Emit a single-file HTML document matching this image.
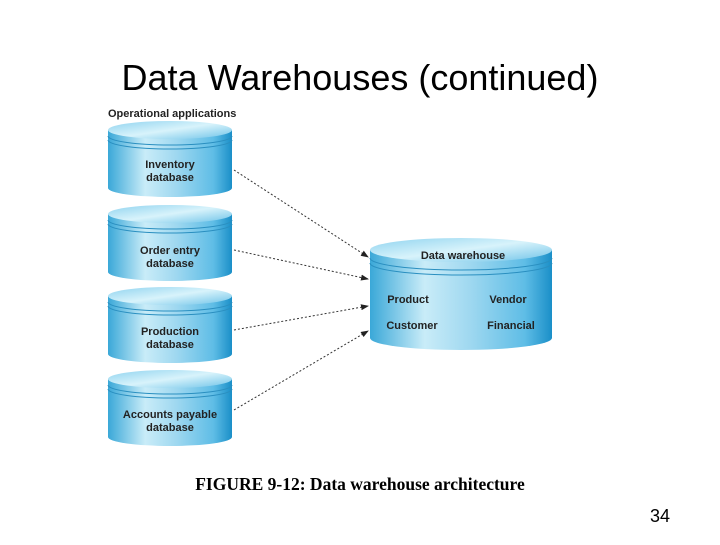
<!DOCTYPE html>
<html><head><style>body{margin:0;background:#fff;width:720px;height:540px;overflow:hidden}</style></head><body>
<svg width="720" height="540" xmlns="http://www.w3.org/2000/svg">
<defs>
<linearGradient id="b" x1="0" x2="1" y1="0" y2="0">
<stop offset="0" stop-color="#3aa8d8"/><stop offset="0.3" stop-color="#c9ecf8"/><stop offset="0.55" stop-color="#9fd8f0"/><stop offset="0.85" stop-color="#5fbde6"/><stop offset="1" stop-color="#1a8fc8"/></linearGradient>
<linearGradient id="t" x1="0" x2="1" y1="0" y2="1">
<stop offset="0" stop-color="#8fd3ef"/><stop offset="0.5" stop-color="#d8f3fb"/><stop offset="1" stop-color="#6cc2e8"/></linearGradient>
<marker id="a" markerWidth="8" markerHeight="6" refX="7" refY="3" orient="auto"><path d="M0,0L8,3L0,6z" fill="#222"/></marker>
</defs>
<text x="360" y="90" font-family="Liberation Sans,sans-serif" font-size="36" text-anchor="middle" fill="#000">Data Warehouses (continued)</text>
<text x="108" y="117" font-family="Liberation Sans,sans-serif" font-size="11" font-weight="bold" fill="#222">Operational applications</text>
<g font-family="Liberation Sans,sans-serif" font-size="11" font-weight="bold" fill="#222" text-anchor="middle">
<g id="c1">
<path d="M108,130 V188 A62,9 0 0 0 232,188 V130 Z" fill="url(#b)"/>
<ellipse cx="170" cy="130" rx="62" ry="9" fill="url(#t)"/>
<path d="M108,136 A62,9 0 0 0 232,136 M108,140 A62,9 0 0 0 232,140" fill="none" stroke="#2a8fc0" stroke-width="1"/>
</g>
<use href="#c1" y="84"/><use href="#c1" y="166"/><use href="#c1" y="249"/>
<text x="170" y="168">Inventory</text><text x="170" y="181">database</text>
<text x="170" y="254">Order entry</text><text x="170" y="267">database</text>
<text x="170" y="335">Production</text><text x="170" y="348">database</text>
<text x="170" y="418">Accounts payable</text><text x="170" y="431">database</text>
<path d="M370,250 V338 A91,12 0 0 0 552,338 V250 Z" fill="url(#b)"/>
<ellipse cx="461" cy="250" rx="91" ry="12" fill="url(#t)"/>
<path d="M370,258 A91,12 0 0 0 552,258 M370,263 A91,12 0 0 0 552,263" fill="none" stroke="#2a8fc0"/>
<text x="463" y="259">Data warehouse</text>
<text x="408" y="303">Product</text><text x="508" y="303">Vendor</text>
<text x="412" y="329">Customer</text><text x="511" y="329">Financial</text>
</g>
<g stroke="#333" stroke-width="1" stroke-dasharray="2,2" marker-end="url(#a)">
<line x1="234" y1="170" x2="368" y2="257"/>
<line x1="234" y1="250" x2="368" y2="279"/>
<line x1="234" y1="330" x2="368" y2="306"/>
<line x1="234" y1="410" x2="368" y2="331"/>
</g>
<text x="360" y="490" font-family="Liberation Serif,serif" font-size="17.5" font-weight="bold" text-anchor="middle">FIGURE 9-12: Data warehouse architecture</text>
<text x="660" y="522" font-family="Liberation Sans,sans-serif" font-size="18" text-anchor="middle">34</text>
</svg>
</body></html>
